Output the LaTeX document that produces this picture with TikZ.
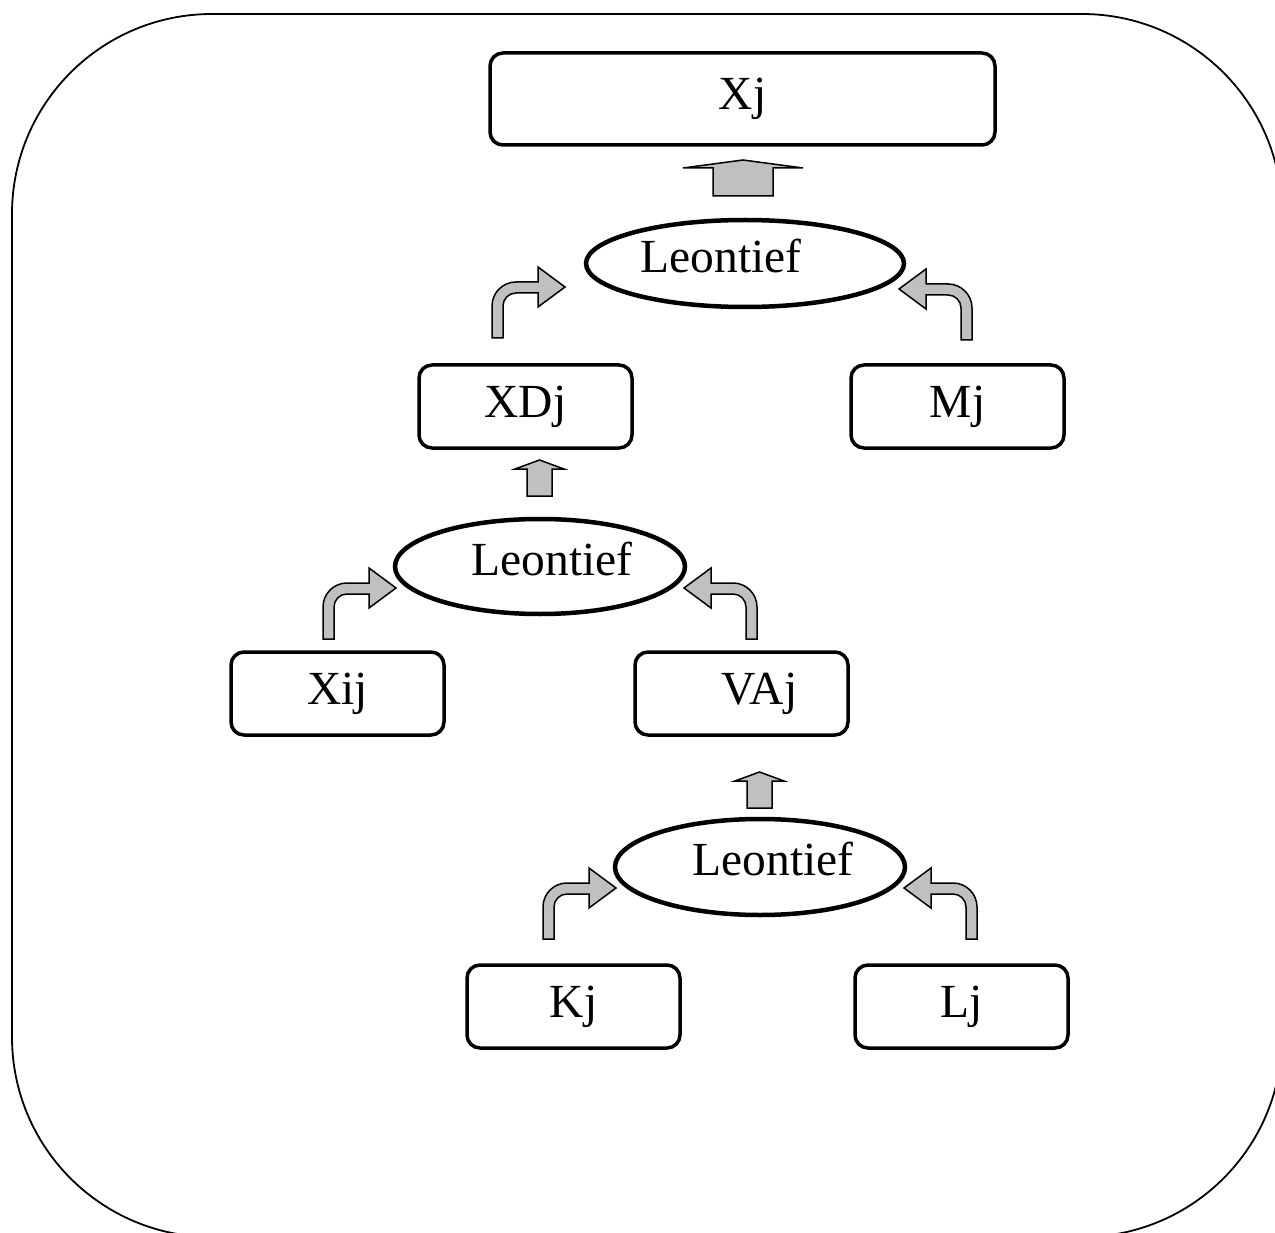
\documentclass[tikz,border=0pt]{standalone}
\usepackage{fontspec}
\setmainfont{Liberation Serif}
\usetikzlibrary{shapes.geometric}
\definecolor{arrowgray}{HTML}{C0C0C0}
\tikzset{
  labelfont/.style={font=\fontsize{47.5}{57}\selectfont},
  box/.style={draw, line width=3.5pt, rounded corners=13pt, minimum width=213pt,
    minimum height=83pt, inner sep=0pt, outer sep=0pt, labelfont},
  leon/.style={draw, ellipse, line width=4.5pt, inner sep=0pt, outer sep=0pt,
    text depth=16pt, labelfont},
  blockarrow/.style={draw, line width=1.5pt, fill=arrowgray},
  % bent block arrow: origin at the bottom-left corner of its shaft
  bentarrow/.pic={
    \draw[blockarrow] (0,0) -- (0,-32)
      .. controls (0,-45.25) and (10.75,-56) .. (24,-56)
      -- (46,-56) -- (46,-71) -- (73,-51) -- (46,-31) -- (46,-45) -- (24,-45)
      .. controls (16.82,-45) and (11,-39.18) .. (11,-32) -- (11,0) -- cycle;
  },
  % wide upward block arrow: origin at the bottom centre of its shaft
  bigup/.pic={
    \draw[blockarrow] (-30,0) -- (-30,-28) -- (-60,-28) -- (0,-36)
      -- (60,-28) -- (30,-28) -- (30,0) -- cycle;
  },
  smallup/.pic={
    \draw[blockarrow] (-12.5,0) -- (-12.5,-27) -- (-24.5,-27) -- (0,-36)
      -- (24.5,-27) -- (12.5,-27) -- (12.5,0) -- cycle;
  }
}
\begin{document}
\begin{tikzpicture}[x=1pt, y=-1pt]
  \useasboundingbox (0,0) rectangle (1275,1233);

  % outer frame
  \begin{scope}
    \clip (0,0) rectangle (1275,1233);
    \draw[line width=1.8pt, rounded corners=200pt] (12,14) rectangle (1282,1237);
  \end{scope}

  % nodes of the nesting tree
  \node[box, minimum width=505pt, minimum height=92pt] (xj) at (742.5,99) {Xj};
  \node[leon, minimum width=318pt, minimum height=87pt] (leon1) at (745,263.5) {\hspace*{-48pt}Leontief};
  \node[box] (xdj) at (525.5,406.5) {XDj};
  \node[box] (mj) at (957.5,406.5) {Mj};
  \node[leon, minimum width=290pt, minimum height=95pt] (leon2) at (540,566.5) {\hspace*{24pt}Leontief};
  \node[box] (xij) at (337.5,693.5) {Xij};
  \node[box] (vaj) at (741.5,693.5) {\hspace*{36pt}VAj};
  \node[leon, minimum width=290pt, minimum height=96pt] (leon3) at (760,867) {\hspace*{26pt}Leontief};
  \node[box] (kj) at (573.5,1006.5) {Kj};
  \node[box] (lj) at (961.5,1006.5) {Lj};

  % block arrows
  \pic at (743,196) {bigup};
  \pic at (492,338) {bentarrow};
  \pic[xscale=-1] at (972,340) {bentarrow};
  \pic at (539.5,496) {smallup};
  \pic at (323,639) {bentarrow};
  \pic[xscale=-1] at (757,639) {bentarrow};
  \pic at (759.5,808) {smallup};
  \pic at (543,939) {bentarrow};
  \pic[xscale=-1] at (977,939) {bentarrow};
\end{tikzpicture}
\end{document}
